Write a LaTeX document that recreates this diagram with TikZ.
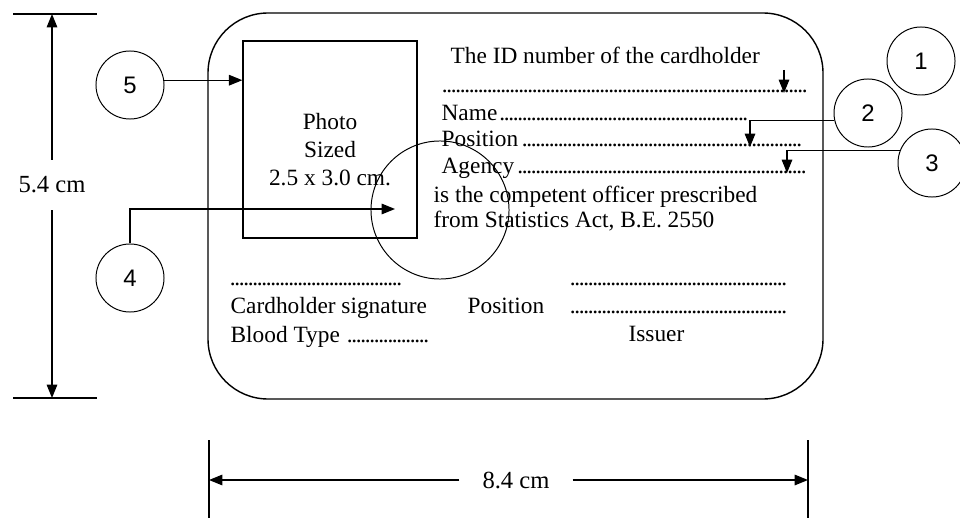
\documentclass[tikz,border=0pt]{standalone}
\usepackage{fontspec}
\setmainfont{Liberation Serif}
\newfontfamily\numfont{Liberation Sans}
\usetikzlibrary{positioning, arrows.meta}
\newlength{\pxu}\setlength{\pxu}{0.025cm}
\newcommand{\dotrun}{\leaders\hbox to 4.5\pxu{\hss.\hss}\hfill}
\newcommand{\dotline}[2]{\makebox[#1\pxu][l]{#2\dotrun}}

\begin{document}
\begin{tikzpicture}[x=0.025cm, y=-0.025cm, line width=0.9pt,
    font=\fontsize{16.6}{20}\selectfont,
    tip/.style={-{Triangle[length=9.5pt,width=7.5pt]}},
    num/.style={circle, draw, line width=0.7pt, minimum size=1.7cm, inner sep=0pt,
        font=\numfont\fontsize{17}{20}\selectfont},
    txt/.style={anchor=base west, inner sep=0pt}]
\useasboundingbox (0,0) rectangle (960,518);

% card and photo
\draw[rounded corners=1.5cm, line width=1pt] (208,13) rectangle (823,399);
\node[draw, minimum width=4.35cm, minimum height=4.925cm, inner sep=0pt] (photo) at (330,139.5) {};
\node[align=center, inner sep=0pt, font=\fontsize{16.6}{19.9}\selectfont] (phototext) at (330,150) {Photo\\Sized\\2.5 x 3.0 cm.};
\node[circle, draw, line width=0.7pt, minimum size=3.45cm] (ring) at (440,210) {};

% card texts
\node[txt] (idtext) at (450,64) {The ID number of the cardholder};
\node[txt] (iddots) at (442,93) {\dotline{368}{}};
\node[txt] (name) at (441,121) {\dotline{307}{Name}};
\node[txt] (position) at (441,147) {\dotline{364}{Position}};
\node[txt] (agency) at (441,174) {\dotline{367}{Agency}};
\node[txt] (officer) at (433,202) {is the competent officer prescribed};
\node[txt] (act) at (433,227) {from Statistics Act, B.E. 2550};
\node[txt] (signdots) at (230,285) {\dotline{172}{}};
\node[txt] (signature) at (230,313) {Cardholder signature};
\node[txt] (blood) at (230,342) {\dotline{198}{Blood Type\ }};
\node[txt] (posdots) at (570,285) {\dotline{220}{}};
\node[txt] (issdots) at (570,313) {\dotline{220}{}};
\node[txt] (issposition) at (467,313) {Position};
\node[txt] (issuer) at (628,341) {Issuer};

% numbered callouts
\node[num] (c1) at (921,61) {1};
\node[num] (c2) at (868,113) {2};
\node[num] (c3) at (932,163) {3};
\node[num] (c4) at (130,278) {4};
\node[num] (c5) at (130,85) {5};
\coordinate (a1) at (784,70);
\coordinate (p1) at (784,93);
\coordinate (p2) at (750,147);
\coordinate (p3) at (787,173);
\coordinate (p4) at (395,209);
\draw[tip] (a1) -- (p1);
\draw[tip] (c2.192) -| (p2);
\draw[tip] (c3.159) -| (p3);
\draw[tip] (c4.north) |- (p4);
\draw[tip] (c5.8) -- (c5.8 -| photo.west);

% dimensions
\node[minimum height=1.225cm, inner sep=0pt, font=\fontsize{17.5}{20}\selectfont] (dimv) at (52,185) {5.4 cm};
\draw (13,14) -- (97,14);
\draw (13,398) -- (97,398);
\coordinate (vtop) at (52,14);
\coordinate (vbot) at (52,398);
\draw[tip] (dimv.north) -- (vtop);
\draw[tip] (dimv.south) -- (vbot);
\node[minimum width=2.8cm, inner sep=0pt, font=\fontsize{17.5}{20}\selectfont] (dimh) at (516,480) {8.4 cm};
\draw (209,440) -- (209,518);
\draw (808,440) -- (808,518);
\coordinate (hleft) at (209,480);
\coordinate (hright) at (808,480);
\draw[tip] (dimh.west) -- (hleft);
\draw[tip] (dimh.east) -- (hright);
\end{tikzpicture}
\end{document}
